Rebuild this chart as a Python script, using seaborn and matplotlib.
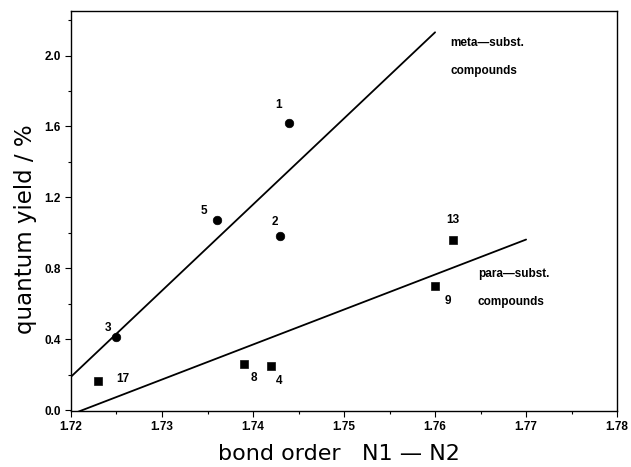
import matplotlib
matplotlib.use("Agg")
import matplotlib.pyplot as plt
import seaborn as sns
import pandas as pd
import numpy as np
from matplotlib.ticker import MultipleLocator, FormatStrFormatter

# data
meta_ids = ["1", "5", "2", "3"]
meta_x = [1.744, 1.736, 1.743, 1.725]
meta_y = [1.62, 1.07, 0.98, 0.41]

para_ids = ["17", "8", "4", "13", "9"]
para_x = [1.723, 1.739, 1.742, 1.762, 1.760]
para_y = [0.165, 0.26, 0.25, 0.96, 0.70]

meta_line_x = [1.720, 1.760]
meta_line_y = [0.188, 2.131]
para_line_x = [1.720, 1.770]
para_line_y = [-0.025, 0.962]

x_ticks = [1.72, 1.73, 1.74, 1.75, 1.76, 1.77, 1.78]
y_ticks = [0.0, 0.4, 0.8, 1.2, 1.6, 2.0]

sns.set_theme(style="ticks")
plt.rcParams['font.family'] = ['Liberation Sans', 'DejaVu Sans']
plt.rcParams['text.color'] = 'black'
plt.rcParams['axes.labelcolor'] = 'black'
plt.rcParams['xtick.color'] = 'black'
plt.rcParams['ytick.color'] = 'black'

fig = plt.figure(figsize=(6.31, 4.67), dpi=100)
ax = fig.add_axes([0.1125, 0.12, 0.8655, 0.856])

meta_df = pd.DataFrame({"x": meta_x, "y": meta_y})
para_df = pd.DataFrame({"x": para_x, "y": para_y})

sns.lineplot(x=meta_line_x, y=meta_line_y, ax=ax, color="black", lw=1.3)
sns.lineplot(x=para_line_x, y=para_line_y, ax=ax, color="black", lw=1.3)
sns.scatterplot(data=meta_df, x="x", y="y", ax=ax, marker="o", s=38,
                color="black", edgecolor="black", zorder=3)
sns.scatterplot(data=para_df, x="x", y="y", ax=ax, marker="s", s=32,
                color="black", edgecolor="black", zorder=3)

# point labels (offsets in points)
meta_off = [(-8, 13), (-9, 7), (-4, 10), (-6, 7)]
para_off = [(18, 1), (7, -10), (6, -11), (0, 14), (9, -11)]
for lab, x, y, off in zip(meta_ids, meta_x, meta_y, meta_off):
    ax.annotate(lab, (x, y), xytext=off, textcoords="offset points",
                ha="center", va="center", fontsize=8.5, fontweight="bold",
                color="black")
for lab, x, y, off in zip(para_ids, para_x, para_y, para_off):
    ax.annotate(lab, (x, y), xytext=off, textcoords="offset points",
                ha="center", va="center", fontsize=8.5, fontweight="bold",
                color="black")

ax.text(1.7617, 2.07, "meta\u2014subst.", fontsize=8.5, fontweight="bold",
        ha="left", va="center", color="black")
ax.text(1.7617, 1.91, "compounds", fontsize=8.5, fontweight="bold",
        ha="left", va="center", color="black")
ax.text(1.7647, 0.765, "para\u2014subst.", fontsize=8.5, fontweight="bold",
        ha="left", va="center", color="black")
ax.text(1.7647, 0.61, "compounds", fontsize=8.5, fontweight="bold",
        ha="left", va="center", color="black")

ax.set_xlim(1.72, 1.78)
ax.set_ylim(-0.005, 2.25)
ax.set_xticks(x_ticks)
ax.set_yticks(y_ticks)
ax.xaxis.set_major_formatter(FormatStrFormatter("%.2f"))
ax.yaxis.set_major_formatter(FormatStrFormatter("%.1f"))
ax.xaxis.set_minor_locator(MultipleLocator(0.005))
ax.yaxis.set_minor_locator(MultipleLocator(0.2))
ax.tick_params(axis="both", which="major", length=4, width=0.8,
               labelsize=8.5, direction="out", colors="black")
ax.tick_params(axis="both", which="minor", length=2.5, width=0.8,
               direction="out", colors="black")
for lbl in ax.get_xticklabels() + ax.get_yticklabels():
    lbl.set_fontweight("bold")

for sp in ax.spines.values():
    sp.set_visible(True)
    sp.set_linewidth(1.0)
    sp.set_color("black")

ax.set_xlabel("bond order   N1 \u2014 N2", fontsize=16, color="black",
              family=["DejaVu Sans"])
ax.xaxis.set_label_coords(0.49, -0.082)
ax.set_ylabel("quantum yield / %", fontsize=16.5, color="black",
              family=["DejaVu Sans"])
ax.yaxis.set_label_coords(-0.062, 0.455)

fig.savefig("out.png", dpi=100)
